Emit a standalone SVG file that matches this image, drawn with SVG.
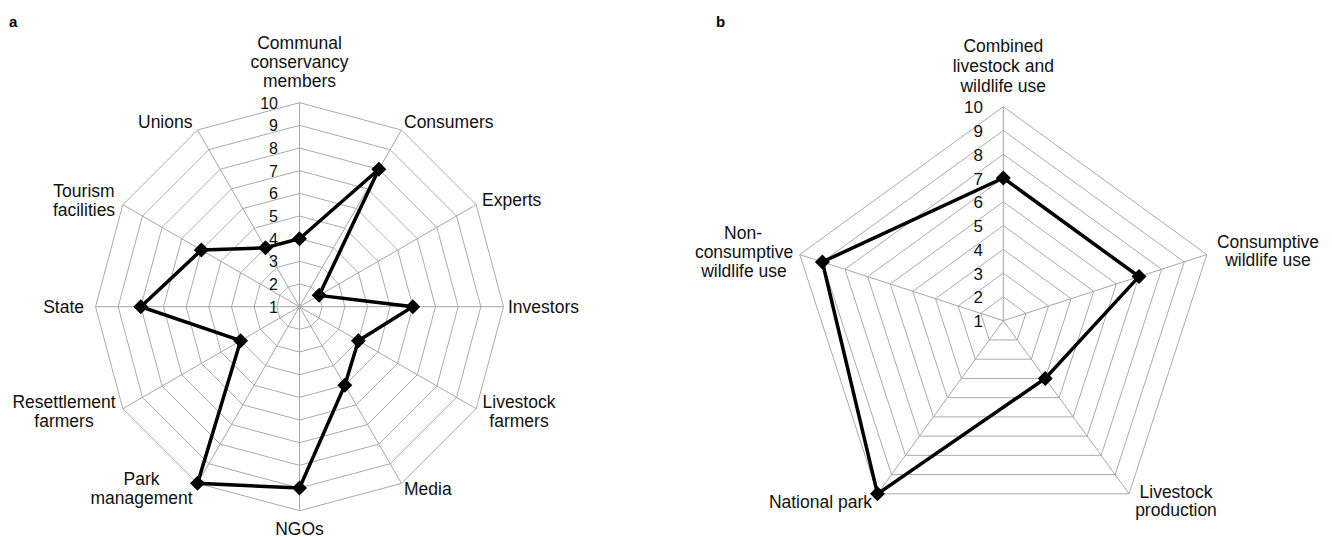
<svg xmlns="http://www.w3.org/2000/svg" xmlns:xlink="http://www.w3.org/1999/xlink" width="1332" height="537" viewBox="0 0 1332 537">
<style>
.grid{fill:none;stroke:#ababab;stroke-width:1}
.spoke{fill:none;stroke:#a6a6a6;stroke-width:1}
.data{fill:none;stroke:#000;stroke-width:3.5;stroke-linejoin:miter}
.lbl{font-family:"Liberation Sans",Arial,sans-serif;font-size:17.5px;fill:#111}
.num{font-family:"Liberation Sans",Arial,sans-serif;font-size:16px;fill:#111;text-anchor:end}
.numb{font-family:"Liberation Sans",Arial,sans-serif;font-size:17px;fill:#111;text-anchor:end}
.mid{text-anchor:middle}
.end{text-anchor:end}
.panel{font-family:"Liberation Sans",Arial,sans-serif;font-size:15px;font-weight:bold;fill:#000}
</style>
<defs>
<path id="dm" d="M0,-7.5 L7.5,0 L0,7.5 L-7.5,0 Z" fill="#000"/>
</defs>
<rect width="1332" height="537" fill="#fff"/>

<!-- Chart a -->
<g id="chart-a">
<text class="panel" x="9" y="27">a</text>
<g id="grid-a" transform="translate(299.5,306.7)">
<polygon class="grid" points="0,-22.67 11.33,-19.63 19.63,-11.33 22.67,0 19.63,11.33 11.33,19.63 0,22.67 -11.33,19.63 -19.63,11.33 -22.67,0 -19.63,-11.33 -11.33,-19.63"/>
<polygon class="grid" points="0,-45.33 22.67,-39.26 39.26,-22.67 45.33,0 39.26,22.67 22.67,39.26 0,45.33 -22.67,39.26 -39.26,22.67 -45.33,0 -39.26,-22.67 -22.67,-39.26"/>
<polygon class="grid" points="0,-68 34,-58.89 58.89,-34 68,0 58.89,34 34,58.89 0,68 -34,58.89 -58.89,34 -68,0 -58.89,-34 -34,-58.89"/>
<polygon class="grid" points="0,-90.67 45.33,-78.52 78.52,-45.33 90.67,0 78.52,45.33 45.33,78.52 0,90.67 -45.33,78.52 -78.52,45.33 -90.67,0 -78.52,-45.33 -45.33,-78.52"/>
<polygon class="grid" points="0,-113.33 56.67,-98.15 98.15,-56.67 113.33,0 98.15,56.67 56.67,98.15 0,113.33 -56.67,98.15 -98.15,56.67 -113.33,0 -98.15,-56.67 -56.67,-98.15"/>
<polygon class="grid" points="0,-136 68,-117.78 117.78,-68 136,0 117.78,68 68,117.78 0,136 -68,117.78 -117.78,68 -136,0 -117.78,-68 -68,-117.78"/>
<polygon class="grid" points="0,-158.67 79.33,-137.41 137.41,-79.33 158.67,0 137.41,79.33 79.33,137.41 0,158.67 -79.33,137.41 -137.41,79.33 -158.67,0 -137.41,-79.33 -79.33,-137.41"/>
<polygon class="grid" points="0,-181.33 90.67,-157.04 157.04,-90.67 181.33,0 157.04,90.67 90.67,157.04 0,181.33 -90.67,157.04 -157.04,90.67 -181.33,0 -157.04,-90.67 -90.67,-157.04"/>
<polygon class="grid" points="0,-204 102,-176.67 176.67,-102 204,0 176.67,102 102,176.67 0,204 -102,176.67 -176.67,102 -204,0 -176.67,-102 -102,-176.67"/>
<path class="spoke" d="M0,-204 L0,204 M102,-176.67 L-102,176.67 M176.67,-102 L-176.67,102 M204,0 L-204,0 M176.67,102 L-176.67,-102 M102,176.67 L-102,-176.67"/>
</g>
<g id="scale-a">
<text class="num" x="278" y="108.7">10</text>
<text class="num" x="278" y="131.4">9</text>
<text class="num" x="278" y="154">8</text>
<text class="num" x="278" y="176.7">7</text>
<text class="num" x="278" y="199.4">6</text>
<text class="num" x="278" y="222">5</text>
<text class="num" x="278" y="244.7">4</text>
<text class="num" x="278" y="267.4">3</text>
<text class="num" x="278" y="290">2</text>
<text class="num" x="278" y="312.7">1</text>
</g>
<g id="series-a" transform="translate(299.5,306.7)">
<polygon class="data" points="0,-68 79.33,-137.41 19.63,-11.33 113.33,0 58.89,34 45.33,78.52 0,181.33 -102,176.67 -58.89,34 -158.67,0 -98.15,-56.67 -34,-58.89"/>
<use xlink:href="#dm" href="#dm" x="0" y="-68"/>
<use xlink:href="#dm" href="#dm" x="79.33" y="-137.41"/>
<use xlink:href="#dm" href="#dm" x="19.63" y="-11.33"/>
<use xlink:href="#dm" href="#dm" x="113.33" y="0"/>
<use xlink:href="#dm" href="#dm" x="58.89" y="34"/>
<use xlink:href="#dm" href="#dm" x="45.33" y="78.52"/>
<use xlink:href="#dm" href="#dm" x="0" y="181.33"/>
<use xlink:href="#dm" href="#dm" x="-102" y="176.67"/>
<use xlink:href="#dm" href="#dm" x="-58.89" y="34"/>
<use xlink:href="#dm" href="#dm" x="-158.67" y="0"/>
<use xlink:href="#dm" href="#dm" x="-98.15" y="-56.67"/>
<use xlink:href="#dm" href="#dm" x="-34" y="-58.89"/>
</g>
<g id="labels-a">
<g id="a-communal"><text class="lbl mid" x="299.5" y="49">Communal</text><text class="lbl mid" x="299.5" y="68">conservancy</text><text class="lbl mid" x="299.5" y="87">members</text></g>
<g id="a-consumers"><text class="lbl" x="404" y="128">Consumers</text></g>
<g id="a-experts"><text class="lbl" x="482" y="206">Experts</text></g>
<g id="a-investors"><text class="lbl" x="508" y="313">Investors</text></g>
<g id="a-livestock"><text class="lbl mid" x="519" y="408">Livestock</text><text class="lbl mid" x="519" y="427">farmers</text></g>
<g id="a-media"><text class="lbl" x="404" y="495">Media</text></g>
<g id="a-ngos"><text class="lbl mid" x="299.5" y="535">NGOs</text></g>
<g id="a-park"><text class="lbl mid" x="141.5" y="485">Park</text><text class="lbl mid" x="141.5" y="504">management</text></g>
<g id="a-resettlement"><text class="lbl mid" x="64" y="408">Resettlement</text><text class="lbl mid" x="64" y="427">farmers</text></g>
<g id="a-state"><text class="lbl end" x="84" y="313">State</text></g>
<g id="a-tourism"><text class="lbl mid" x="84" y="197">Tourism</text><text class="lbl mid" x="84" y="215.5">facilities</text></g>
<g id="a-unions"><text class="lbl" x="138" y="128">Unions</text></g>
</g>
</g>

<!-- Chart b -->
<g id="chart-b">
<text class="panel" x="716" y="27">b</text>
<g id="grid-b" transform="translate(1003.3,320.7)">
<polygon class="grid" points="0,-23.78 22.61,-7.35 13.98,19.24 -13.98,19.24 -22.61,-7.35"/>
<polygon class="grid" points="0,-47.56 45.23,-14.70 27.96,38.48 -27.96,38.48 -45.23,-14.70"/>
<polygon class="grid" points="0,-71.33 67.84,-22.04 41.93,57.71 -41.93,57.71 -67.84,-22.04"/>
<polygon class="grid" points="0,-95.11 90.46,-29.39 55.91,76.94 -55.91,76.94 -90.46,-29.39"/>
<polygon class="grid" points="0,-118.89 113.08,-36.74 69.88,96.18 -69.88,96.18 -113.08,-36.74"/>
<polygon class="grid" points="0,-142.67 135.69,-44.08 83.86,115.42 -83.86,115.42 -135.69,-44.08"/>
<polygon class="grid" points="0,-166.44 158.30,-51.43 97.83,134.65 -97.83,134.65 -158.30,-51.43"/>
<polygon class="grid" points="0,-190.22 180.92,-58.78 111.81,153.89 -111.81,153.89 -180.92,-58.78"/>
<polygon class="grid" points="0,-214 203.54,-66.13 125.79,173.13 -125.79,173.13 -203.54,-66.13"/>
<path class="spoke" d="M0,0 L0,-214 M0,0 L203.54,-66.13 M0,0 L125.79,173.13 M0,0 L-125.79,173.13 M0,0 L-203.54,-66.13"/>
</g>
<g id="scale-b">
<text class="numb" x="983" y="113.2">10</text>
<text class="numb" x="983" y="137">9</text>
<text class="numb" x="983" y="160.8">8</text>
<text class="numb" x="983" y="184.5">7</text>
<text class="numb" x="983" y="208.3">6</text>
<text class="numb" x="983" y="232.1">5</text>
<text class="numb" x="983" y="255.9">4</text>
<text class="numb" x="983" y="279.7">3</text>
<text class="numb" x="983" y="303.4">2</text>
<text class="numb" x="983" y="327.2">1</text>
</g>
<g id="series-b" transform="translate(1003.3,320.7)">
<polygon class="data" points="0,-142.67 135.69,-44.08 41.93,57.71 -125.79,173.13 -180.92,-58.78"/>
<use xlink:href="#dm" href="#dm" x="0" y="-142.67"/>
<use xlink:href="#dm" href="#dm" x="135.69" y="-44.08"/>
<use xlink:href="#dm" href="#dm" x="41.93" y="57.71"/>
<use xlink:href="#dm" href="#dm" x="-125.79" y="173.13"/>
<use xlink:href="#dm" href="#dm" x="-180.92" y="-58.78"/>
</g>
<g id="labels-b">
<g id="b-combined"><text class="lbl mid" x="1003.3" y="52">Combined</text><text class="lbl mid" x="1003.3" y="72">livestock and</text><text class="lbl mid" x="1003.3" y="92">wildlife use</text></g>
<g id="b-consumptive"><text class="lbl mid" x="1268" y="248">Consumptive</text><text class="lbl mid" x="1268" y="266">wildlife use</text></g>
<g id="b-livestock"><text class="lbl mid" x="1176" y="497.5">Livestock</text><text class="lbl mid" x="1176" y="516">production</text></g>
<g id="b-national"><text class="lbl end" x="872" y="507.5">National park</text></g>
<g id="b-nonconsumptive"><text class="lbl mid" x="743" y="239">Non-</text><text class="lbl mid" x="744" y="258">consumptive</text><text class="lbl mid" x="744" y="277">wildlife use</text></g>
</g>
</g>
</svg>
